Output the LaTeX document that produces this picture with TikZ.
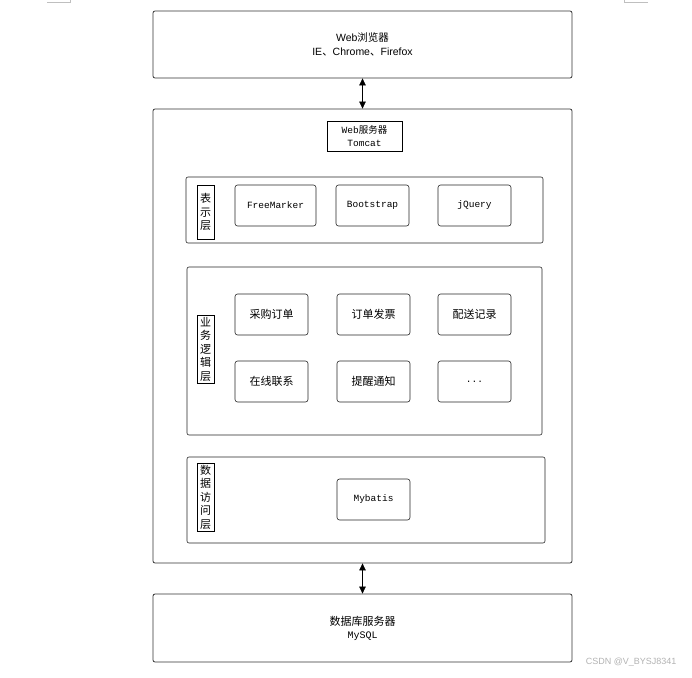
\documentclass[tikz,border=0pt]{standalone}
\usepackage{fontspec}
\setmainfont{Liberation Sans}
\setmonofont{Liberation Mono}
\newfontfamily\cjk{Noto Sans CJK SC}
\usetikzlibrary{arrows.meta}

\tikzset{
  outerbox/.style={draw=black!80, thick, rounded corners=2pt, inner sep=0pt},
  layerbox/.style={draw=black!85, semithick, rounded corners=2pt, inner sep=0pt},
  modbox/.style={draw=black!85, semithick, rounded corners=2.5pt, minimum width=73pt, minimum height=41pt,
    font=\ttfamily\fontsize{9.5}{11}\selectfont},
  tagbox/.style={draw=black, semithick, inner sep=1pt, minimum width=17pt, align=center,
    font=\cjk\fontsize{11}{13.5}\selectfont},
  link/.style={{Triangle[length=7pt,width=6.5pt]}-{Triangle[length=7pt,width=6.5pt]}, semithick}
}

\begin{document}
\begin{tikzpicture}[x=1pt, y=-1pt]
\useasboundingbox (0,0) rectangle (692,677);
% corner marks of the page
\draw[black!25] (47,2) -- (70,2) -- (70,0);
\draw[black!25] (648,2) -- (624,2) -- (624,0);

% browser
\node[outerbox, minimum width=419pt, minimum height=67pt, align=center,
  font=\fontsize{10.5}{13.5}\selectfont] (browser) at (362.5,44.5)
  {Web{\cjk 浏览器}\\IE{\cjk 、}Chrome{\cjk 、}Firefox};

% web server
\node[outerbox, minimum width=419pt, minimum height=454pt] (web) at (362.5,336) {};
\node[draw, semithick, minimum width=75pt, minimum height=30pt, inner sep=0pt, align=center,
  font=\fontsize{9.5}{13}\selectfont] (tomcat) at (364.5,136)
  {\ttfamily Web{\cjk 服务器}\\\ttfamily Tomcat};

% presentation layer
\node[layerbox, minimum width=357pt, minimum height=66pt] (pres) at (364.5,210) {};
\node[tagbox, minimum height=54pt] (prestag) at (205.5,212) {表\\示\\层};
\node[modbox, minimum width=81pt] (freemarker) at (275.5,205.5) {FreeMarker};
\node[modbox] (bootstrap) at (372.5,205.5) {Bootstrap};
\node[modbox] (jquery) at (474.5,205.5) {jQuery};

% business layer
\node[layerbox, minimum width=355pt, minimum height=168pt] (biz) at (364.5,351) {};
\node[tagbox, minimum height=68pt] (biztag) at (205.5,349) {业\\务\\逻\\辑\\层};
\node[modbox, font=\cjk\fontsize{11}{13}\selectfont] (order) at (271.5,314.5) {采购订单};
\node[modbox, font=\cjk\fontsize{11}{13}\selectfont] (invoice) at (373.5,314.5) {订单发票};
\node[modbox, font=\cjk\fontsize{11}{13}\selectfont] (delivery) at (474.5,314.5) {配送记录};
\node[modbox, font=\cjk\fontsize{11}{13}\selectfont] (contact) at (271.5,381.5) {在线联系};
\node[modbox, font=\cjk\fontsize{11}{13}\selectfont] (notice) at (373.5,381.5) {提醒通知};
\node[modbox] (more) at (474.5,381.5) {...};

% data access layer
\node[layerbox, minimum width=358pt, minimum height=86pt] (dao) at (366,500) {};
\node[tagbox, minimum height=68pt] (daotag) at (205.5,497) {数\\据\\访\\问\\层};
\node[modbox] (mybatis) at (373.5,499.5) {Mybatis};

% database
\node[outerbox, minimum width=419pt, minimum height=68pt, align=center,
  font=\fontsize{10}{13}\selectfont] (db) at (362.5,628)
  {{\cjk\fontsize{11}{13}\selectfont 数据库服务器}\\\ttfamily MySQL};

% links
\draw[link] (browser.south) -- (web.north);
\draw[link] (web.south) -- (db.north);

\node[text=black!30, font=\fontsize{9}{11}\selectfont, anchor=east] (mark) at (680,662) {CSDN @V\_BYSJ8341};
\end{tikzpicture}
\end{document}
